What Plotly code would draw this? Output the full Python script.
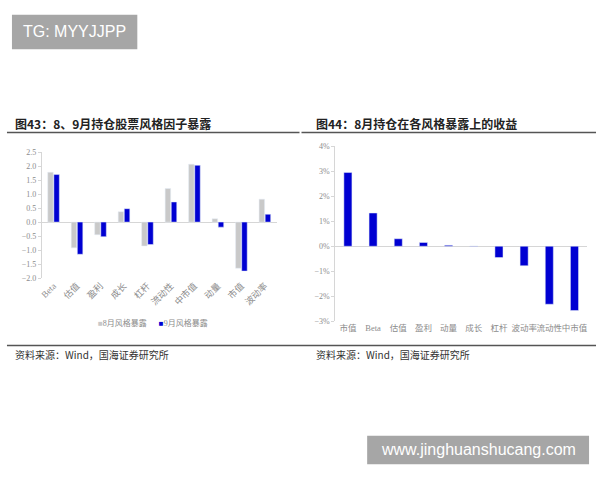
import plotly.graph_objects as go

# Left chart: style factor exposure
cats_left = ["Beta", "估值", "盈利", "成长", "杠杆", "流动性", "中市值", "动量", "市值", "波动率"]
aug_exposure = [1.78, -0.92, -0.45, 0.37, -0.85, 1.20, 2.07, 0.12, -1.65, 0.82]
sep_exposure = [1.70, -1.15, -0.52, 0.48, -0.80, 0.72, 2.03, -0.18, -1.75, 0.28]

# Right chart: return on exposures (%)
cats_right = ["市值", "Beta", "估值", "盈利", "动量", "成长", "杠杆", "波动率", "流动性", "中市值"]
returns_pct = [2.95, 1.33, 0.30, 0.15, 0.04, 0.01, -0.45, -0.78, -2.32, -2.57]

GRAY = "#c9c9c9"
BLUE = "#0000d2"
AX = "#d6d6d6"
SERIF = "Liberation Serif, Noto Sans CJK SC"
TICKF = dict(family=SERIF, size=8, color="#8c8c8c")
CJK = "Noto Sans CJK SC"

fig = go.Figure()
fig.add_trace(go.Bar(x=cats_left, y=aug_exposure, name="8月风格暴露", marker_color=GRAY,
                     xaxis="x", yaxis="y"))
fig.add_trace(go.Bar(x=cats_left, y=sep_exposure, name="9月风格暴露", marker_color=BLUE,
                     xaxis="x", yaxis="y"))
fig.add_trace(go.Bar(x=cats_right, y=returns_pct, name="收益", marker_color=BLUE,
                     showlegend=False, xaxis="x2", yaxis="y2", width=0.32))

W, H = 600, 480
def px(x): return x / W
def py(y): return 1 - y / H

fig.update_layout(
    width=W, height=H, margin=dict(l=0, r=0, t=0, b=0),
    paper_bgcolor="white", plot_bgcolor="white",
    barmode="group", bargap=0.48, bargroupgap=0.1,
    showlegend=False,
    xaxis=dict(domain=[px(40), px(276)], anchor="y", showline=False, showgrid=False,
               ticks="", tickangle=-45, tickfont=dict(family=SERIF, size=9, color="#8c8c8c")),
    yaxis=dict(domain=[py(279.3), py(151)], anchor="x", range=[-2.0, 2.5], dtick=0.5,
               tickformat=".1f", showgrid=False, showline=True, linecolor=AX, linewidth=1,
               ticks="outside", ticklen=3, tickcolor=AX, tickfont=TICKF,
               zeroline=True, zerolinecolor=AX, zerolinewidth=1),
    xaxis2=dict(domain=[px(335), px(588)], anchor="y2", showline=False, showgrid=False,
                ticks="", tickangle=0, tickfont=dict(family=SERIF, size=8.5, color="#8c8c8c")),
    yaxis2=dict(domain=[py(323.3), py(145)], anchor="x2", range=[-3, 4], dtick=1,
                ticksuffix="%", showgrid=False, showline=True, linecolor=AX, linewidth=1,
                ticks="outside", ticklen=3, tickcolor=AX, tickfont=TICKF,
                zeroline=True, zerolinecolor=AX, zerolinewidth=1),
)

shapes = [
    dict(type="line", xref="paper", yref="paper", x0=px(5), x1=px(299), y0=py(131), y1=py(131),
         line=dict(color="#555555", width=1.5)),
    dict(type="line", xref="paper", yref="paper", x0=px(301), x1=px(597), y0=py(131), y1=py(131),
         line=dict(color="#555555", width=1.5)),
    dict(type="line", xref="paper", yref="paper", x0=px(5), x1=px(597), y0=py(348), y1=py(348),
         line=dict(color="#555555", width=1.5)),
    dict(type="rect", xref="paper", yref="paper", x0=px(10), x1=px(136), y0=py(46), y1=py(11),
         fillcolor="#a6a6a6", line=dict(width=0)),
    dict(type="rect", xref="paper", yref="paper", x0=px(367), x1=px(590), y0=py(469), y1=py(440),
         fillcolor="#a6a6a6", line=dict(width=0)),
]
fig.update_layout(shapes=shapes)

legend_names = ["8月风格暴露", "9月风格暴露"]
legend_text = (f"<span style='color:{GRAY}'>■</span>{legend_names[0]}"
               f"      <span style='color:{BLUE}'>■</span>{legend_names[1]}")

annos = [
    dict(text="<b>图43：8、9月持仓股票风格因子暴露</b>", x=px(11), y=py(122), xanchor="left", yanchor="middle",
         font=dict(family=CJK, size=12, color="#222222")),
    dict(text="<b>图44：8月持仓在各风格暴露上的收益</b>", x=px(314), y=py(122), xanchor="left", yanchor="middle",
         font=dict(family=CJK, size=12, color="#222222")),
    dict(text=legend_text, x=px(152), y=py(325), xanchor="center", yanchor="middle",
         font=dict(family=SERIF, size=8, color="#8c8c8c")),
    dict(text="资料来源：Wind，国海证券研究所", x=px(11), y=py(357), xanchor="left", yanchor="middle",
         font=dict(family=CJK, size=10, color="#333333")),
    dict(text="资料来源：Wind，国海证券研究所", x=px(314), y=py(357), xanchor="left", yanchor="middle",
         font=dict(family=CJK, size=10, color="#333333")),
    dict(text="TG: MYYJJPP", x=px(73), y=py(28.5), xanchor="center", yanchor="middle",
         font=dict(family="Liberation Sans, Arial", size=16, color="white")),
    dict(text="www.jinghuanshucang.com", x=px(478.5), y=py(454.5), xanchor="center", yanchor="middle",
         font=dict(family="Liberation Sans, Arial", size=16, color="white")),
]
for a in annos:
    a.update(xref="paper", yref="paper", showarrow=False)
fig.update_layout(annotations=annos)

fig.write_html("out.html", config={"displayModeBar": False},
               post_script="document.body.style.margin='0';document.body.style.overflow='hidden';")
